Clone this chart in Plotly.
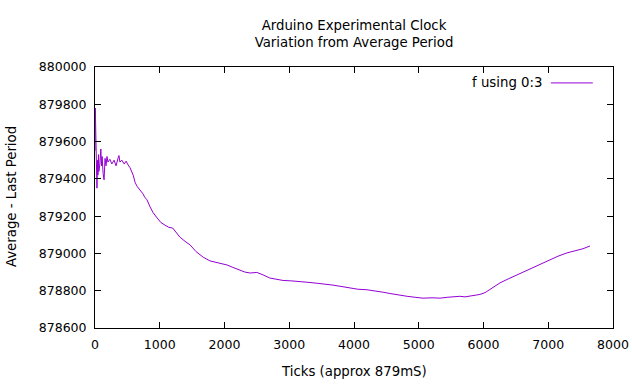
import plotly.graph_objects as go

# Row index (ticks) and column 3 value
ticks = [0, 5, 15, 25, 30, 40, 45, 55, 60, 75, 90, 100, 110, 125, 140, 155, 170, 185,
         200, 230, 260, 295, 325, 355, 370, 385, 415, 450, 480, 510, 540, 590, 620, 650,
         695, 740, 770, 800, 850, 895, 960, 1020, 1080, 1140, 1200, 1265, 1310, 1390,
         1470, 1560, 1670, 1775, 1885, 1960, 2040, 2130, 2240, 2315, 2395, 2500, 2595,
         2700, 2795, 2905, 3025, 3165, 3290, 3430, 3550, 3675, 3800, 3940, 4060, 4200,
         4325, 4450, 4555, 4665, 4820, 4940, 5065, 5205, 5330, 5450, 5560, 5635, 5715,
         5790, 5870, 5945, 6025, 6100, 6180, 6255, 6380, 6520, 6640, 6765, 6890, 7025,
         7150, 7290, 7445, 7535, 7645]
period = [879550, 879780, 879600, 879380, 879350, 879500, 879420, 879530, 879440, 879480,
          879560, 879470, 879520, 879430, 879395, 879510, 879470, 879520, 879490, 879505,
          879480, 879500, 879470, 879510, 879525, 879490, 879500, 879480, 879495, 879475,
          879460, 879420, 879380, 879360, 879340, 879320, 879300, 879290, 879250, 879220,
          879190, 879165, 879152, 879140, 879136, 879110, 879088, 879065, 879045, 879010,
          878980, 878960, 878950, 878942, 878938, 878925, 878911, 878900, 878895, 878898,
          878885, 878868, 878862, 878855, 878853, 878850, 878845, 878840, 878836, 878830,
          878823, 878815, 878808, 878805, 878800, 878792, 878785, 878778, 878770, 878765,
          878760, 878762, 878760, 878765, 878768, 878770, 878767, 878770, 878775, 878780,
          878790, 878808, 878825, 878842, 878863, 878885, 878905, 878925, 878945, 878965,
          878985, 879003, 879015, 879025, 879040]

x_ticks = [0, 1000, 2000, 3000, 4000, 5000, 6000, 7000, 8000]
y_ticks = [878600, 878800, 879000, 879200, 879400, 879600, 879800, 880000]
series_name = "f using 0:3"
line_color = "#9400D3"
FONT = "DejaVu Sans"
NUM_SIZE = 12.5
TXT_SIZE = 13.3

fig = go.Figure()
fig.add_trace(go.Scatter(x=ticks, y=period, mode="lines", name=series_name,
                         line=dict(color=line_color, width=1), showlegend=False))

axis_common = dict(showgrid=False, zeroline=False, showline=True, linecolor="black",
                   linewidth=1, mirror="allticks", ticks="inside", ticklen=6,
                   tickcolor="black", tickwidth=1, automargin=False,
                   tickfont=dict(family=FONT, size=NUM_SIZE, color="black"))

fig.update_layout(
    width=632, height=384,
    margin=dict(l=95, r=19, t=67, b=56, autoexpand=False),
    paper_bgcolor="white", plot_bgcolor="white",
    font=dict(family=FONT, size=TXT_SIZE, color="black"),
    title=dict(text="Arduino Experimental Clock<br>Variation from Average Period",
               x=0.5, xanchor="center", xref="paper", yref="container",
               y=1 - 30 / 384, yanchor="middle",
               font=dict(family=FONT, size=TXT_SIZE, color="black")),
    xaxis=dict(range=[0, 8000], tickvals=x_ticks, ticktext=[str(v) for v in x_ticks],
               ticklabelstandoff=5, **axis_common),
    yaxis=dict(range=[878600, 880000], tickvals=y_ticks, ticktext=[str(v) for v in y_ticks],
               ticklabelstandoff=5, **axis_common),
)

# axis titles
fig.add_annotation(xref="paper", yref="paper", x=0.5, y=-0.165, text="Ticks (approx 879mS)",
                   showarrow=False, xanchor="center", yanchor="middle",
                   font=dict(family=FONT, size=TXT_SIZE, color="black"))
fig.add_annotation(xref="paper", yref="paper", x=-0.160, y=0.502, text="Average - Last Period",
                   showarrow=False, xanchor="center", yanchor="middle", textangle=-90,
                   font=dict(family=FONT, size=TXT_SIZE, color="black"))

# gnuplot-style key: text on the left, line sample on the right
fig.add_annotation(xref="paper", yref="paper", x=0.866, y=0.939, text=series_name,
                   showarrow=False, xanchor="right", yanchor="middle",
                   font=dict(family=FONT, size=TXT_SIZE, color="black"))
fig.add_shape(type="line", xref="paper", yref="paper", x0=0.880, x1=0.961,
              y0=0.939, y1=0.939, line=dict(color=line_color, width=1))

fig.write_html("out.html", config={"displayModeBar": False},
               post_script="document.body.style.margin='0';document.body.style.overflow='hidden';")
